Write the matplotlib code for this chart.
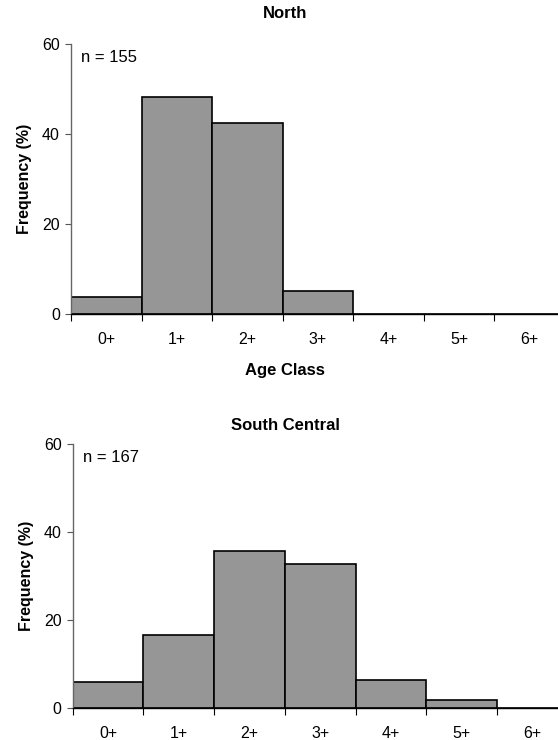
import matplotlib.pyplot as plt
import numpy as np

plt.rcParams['font.family'] = ['Liberation Sans', 'DejaVu Sans']

age_classes = ['0+', '1+', '2+', '3+', '4+', '5+', '6+']
north = [3.8, 48.2, 42.4, 5.2, 0, 0, 0]
south_central = [5.9, 16.7, 35.8, 32.8, 6.5, 1.8, 0]
n_north = 155
n_south = 167

fig = plt.figure(figsize=(5.58, 7.40), dpi=100)

def panel(rect, vals, n, title, title_y, xlabel=None):
    ax = fig.add_axes(rect)
    x = np.arange(len(vals))
    ax.bar(x, vals, width=1.0, color='#969696', edgecolor='black', linewidth=1.2, zorder=2)
    ax.set_xlim(-0.5, len(vals) - 0.5)
    ax.set_ylim(0, 60)
    ax.set_yticks([0, 20, 40, 60])
    ax.tick_params(axis='y', direction='out', length=4, width=0.8, color='#555555',
                   labelsize=11.5, pad=4)
    ax.set_xticks(np.arange(len(vals) + 1) - 0.5)
    ax.set_xticklabels([])
    ax.tick_params(axis='x', which='major', direction='out', length=5, width=0.8)
    ax.set_xticks(x, minor=True)
    ax.set_xticklabels(age_classes, minor=True)
    ax.tick_params(axis='x', which='minor', length=0, labelsize=11.5, pad=13)
    for s in ['top', 'right']:
        ax.spines[s].set_visible(False)
    ax.spines['left'].set_color('#666666')
    ax.spines['left'].set_linewidth(1.0)
    ax.spines['bottom'].set_linewidth(1.0)
    ax.set_ylabel('Frequency (%)', fontsize=11.5, fontweight='bold')
    ax.yaxis.set_label_coords(-39 / (rect[2] * 558), 0.5)
    ax.text(0.02, 0.95, 'n = %d' % n, transform=ax.transAxes, fontsize=12,
            ha='left', va='center')
    fig.text(285 / 558, title_y, title, fontsize=12, fontweight='bold',
             ha='center', va='center')
    if xlabel:
        fig.text(285 / 558, 1 - 371 / 740, xlabel, fontsize=12, fontweight='bold',
                 ha='center', va='center')
    return ax

panel([71 / 558, 1 - 314.3 / 740, 494 / 558, 270 / 740], north, n_north,
      'North', 1 - 13 / 740, xlabel='Age Class')
panel([72.7 / 558, 1 - 708.3 / 740, 495 / 558, 264 / 740], south_central, n_south,
      'South Central', 1 - 425 / 740)

plt.savefig('out.png', dpi=100)
